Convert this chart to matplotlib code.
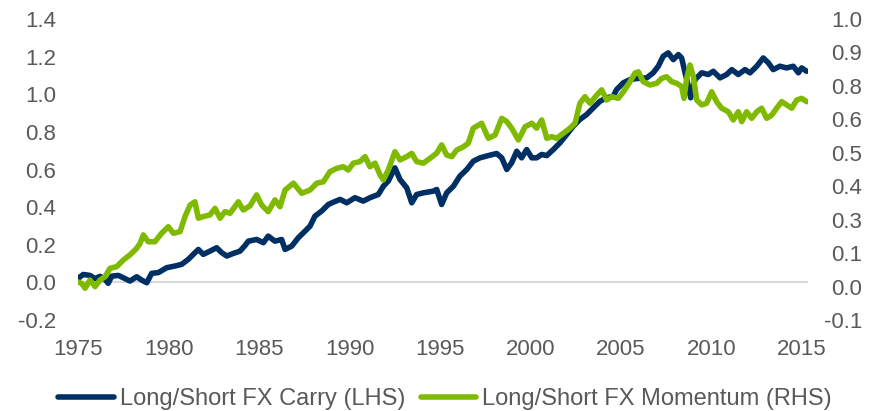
import matplotlib
matplotlib.use("Agg")
import matplotlib.pyplot as plt
import numpy as np

plt.rcParams['font.family'] = ['Liberation Sans', 'DejaVu Sans']

# ---- data ----
carry_years = [1975.00, 1975.29, 1975.66, 1975.94, 1976.22, 1976.49, 1976.67, 1976.86, 1977.23, 1977.60,
               1977.87, 1978.24, 1978.52, 1978.80, 1979.07, 1979.44, 1979.90, 1980.36, 1980.73, 1981.09,
               1981.37, 1981.65, 1981.92, 1982.29, 1982.66, 1982.94, 1983.22, 1983.58, 1983.95, 1984.23,
               1984.41, 1984.87, 1985.24, 1985.51, 1985.88, 1986.25, 1986.44, 1986.81, 1987.17, 1987.54,
               1987.82, 1988.09, 1988.46, 1988.83, 1989.10, 1989.48, 1989.85, 1990.30, 1990.76, 1991.13,
               1991.59, 1991.87, 1992.14, 1992.51, 1992.79, 1993.16, 1993.44, 1993.71, 1994.08, 1994.63,
               1994.82, 1995.09, 1995.37, 1995.74, 1996.10, 1996.48, 1996.84, 1997.21, 1997.67, 1998.13,
               1998.41, 1998.69, 1998.96, 1999.24, 1999.51, 1999.79, 2000.07, 2000.34, 2000.62, 2000.90,
               2001.26, 2001.63, 2002.00, 2002.36, 2002.73, 2003.10, 2003.47, 2003.84, 2004.21, 2004.57,
               2004.76, 2005.13, 2005.50, 2005.83, 2006.42, 2006.78, 2007.06, 2007.33, 2007.61, 2007.89,
               2008.17, 2008.35, 2008.54, 2008.72, 2008.85, 2009.09, 2009.46, 2009.82, 2010.10, 2010.47,
               2010.84, 2011.12, 2011.48, 2011.85, 2012.13, 2012.50, 2012.86, 2013.14, 2013.41, 2013.78,
               2014.15, 2014.52, 2014.80, 2014.98, 2015.26]
carry_values = [0.021, 0.042, 0.037, 0.020, 0.032, 0.016, -0.005, 0.033, 0.037, 0.020,
                0.007, 0.030, 0.012, -0.002, 0.048, 0.052, 0.078, 0.087, 0.096, 0.122,
                0.149, 0.175, 0.149, 0.166, 0.184, 0.158, 0.140, 0.154, 0.166, 0.196,
                0.219, 0.228, 0.211, 0.246, 0.219, 0.228, 0.175, 0.193, 0.237, 0.272,
                0.299, 0.352, 0.379, 0.414, 0.426, 0.441, 0.423, 0.450, 0.432, 0.450,
                0.467, 0.511, 0.538, 0.609, 0.547, 0.503, 0.423, 0.467, 0.476, 0.485,
                0.494, 0.414, 0.476, 0.511, 0.565, 0.600, 0.644, 0.662, 0.674, 0.685,
                0.662, 0.600, 0.636, 0.697, 0.662, 0.706, 0.662, 0.662, 0.680, 0.674,
                0.706, 0.742, 0.786, 0.830, 0.866, 0.892, 0.928, 0.963, 0.981, 0.989,
                1.025, 1.061, 1.078, 1.083, 1.087, 1.114, 1.149, 1.202, 1.220, 1.184,
                1.211, 1.193, 1.114, 1.043, 0.981, 1.078, 1.114, 1.105, 1.122, 1.087,
                1.105, 1.131, 1.105, 1.131, 1.114, 1.149, 1.193, 1.167, 1.131, 1.149,
                1.140, 1.149, 1.114, 1.140, 1.122]

mom_years = [1975.00, 1975.20, 1975.39, 1975.66, 1975.94, 1976.22, 1976.49, 1976.77, 1977.14, 1977.50,
             1977.87, 1978.06, 1978.24, 1978.43, 1978.61, 1978.88, 1979.25, 1979.62, 1979.99, 1980.27,
             1980.64, 1980.91, 1981.19, 1981.46, 1981.65, 1981.92, 1982.29, 1982.57, 1982.85, 1983.12,
             1983.40, 1983.86, 1984.13, 1984.50, 1984.87, 1985.15, 1985.51, 1985.88, 1986.16, 1986.44,
             1986.90, 1987.36, 1987.82, 1988.19, 1988.55, 1988.92, 1989.29, 1989.66, 1989.93, 1990.21,
             1990.58, 1990.86, 1991.13, 1991.41, 1991.69, 1991.87, 1992.14, 1992.51, 1992.79, 1993.16,
             1993.44, 1993.71, 1994.08, 1994.45, 1994.82, 1995.09, 1995.37, 1995.65, 1995.92, 1996.29,
             1996.56, 1996.84, 1997.30, 1997.67, 1998.04, 1998.41, 1998.69, 1998.96, 1999.33, 1999.70,
             2000.07, 2000.34, 2000.62, 2000.90, 2001.17, 2001.45, 2001.81, 2002.18, 2002.46, 2002.73,
             2003.01, 2003.29, 2003.66, 2003.93, 2004.21, 2004.49, 2004.85, 2005.13, 2005.50, 2005.77,
             2005.96, 2006.23, 2006.60, 2006.97, 2007.25, 2007.52, 2007.80, 2008.08, 2008.35, 2008.48,
             2008.63, 2008.81, 2009.00, 2009.18, 2009.46, 2009.73, 2010.01, 2010.28, 2010.56, 2010.93,
             2011.20, 2011.48, 2011.67, 2011.94, 2012.22, 2012.50, 2012.77, 2013.05, 2013.33, 2013.60,
             2013.88, 2014.15, 2014.43, 2014.71, 2014.98, 2015.26]
mom_values = [0.039, 0.034, 0.016, 0.046, 0.022, 0.046, 0.058, 0.089, 0.095, 0.119,
              0.138, 0.150, 0.162, 0.180, 0.211, 0.186, 0.186, 0.217, 0.241, 0.217,
              0.223, 0.278, 0.320, 0.332, 0.272, 0.278, 0.284, 0.308, 0.272, 0.296,
              0.290, 0.332, 0.302, 0.317, 0.357, 0.320, 0.296, 0.339, 0.314, 0.375,
              0.400, 0.363, 0.375, 0.400, 0.405, 0.442, 0.454, 0.460, 0.448, 0.473,
              0.479, 0.497, 0.460, 0.473, 0.430, 0.412, 0.448, 0.515, 0.485, 0.497,
              0.509, 0.479, 0.473, 0.491, 0.510, 0.540, 0.503, 0.497, 0.521, 0.533,
              0.546, 0.601, 0.619, 0.564, 0.576, 0.637, 0.625, 0.601, 0.558, 0.606,
              0.619, 0.601, 0.631, 0.564, 0.570, 0.564, 0.582, 0.601, 0.619, 0.692,
              0.716, 0.692, 0.722, 0.741, 0.704, 0.716, 0.710, 0.734, 0.771, 0.802,
              0.807, 0.771, 0.759, 0.765, 0.783, 0.789, 0.771, 0.765, 0.753, 0.710,
              0.783, 0.832, 0.789, 0.704, 0.686, 0.692, 0.734, 0.698, 0.674, 0.661,
              0.631, 0.661, 0.625, 0.661, 0.637, 0.661, 0.674, 0.637, 0.649, 0.674,
              0.698, 0.686, 0.674, 0.704, 0.710, 0.698]

x_ticks = [1975, 1980, 1985, 1990, 1995, 2000, 2005, 2010, 2015]
left_ticks = [-0.2, 0.0, 0.2, 0.4, 0.6, 0.8, 1.0, 1.2, 1.4]
right_min, right_max, right_n = -0.1, 1.0, 10

series_names = ["Long/Short FX Carry (LHS)", "Long/Short FX Momentum (RHS)"]

# ---- style ----
NAVY = '#003063'
GREEN = '#7FBA00'
TXT = '#595959'
W, H = 869, 411
fig = plt.figure(figsize=(W / 100, H / 100), dpi=100)
ax = fig.add_axes([78 / W, 91 / H, 730 / W, 301 / H])
ax.set_xlim(1975, 1975 + 730 / 18.1)
ax.set_ylim(-0.2, 1.4)

ax.axhline(0, color='#D9D9D9', lw=1.5, zorder=1)
l1, = ax.plot(carry_years, carry_values, color=NAVY, lw=4.0,
              solid_joinstyle='round', solid_capstyle='round', zorder=3)

ax2 = ax.twinx()
ax2.set_ylim(right_min, right_max)
l2, = ax2.plot(mom_years, mom_values, color=GREEN, lw=4.0,
               solid_joinstyle='round', solid_capstyle='round', zorder=3)

for a in (ax, ax2):
    for s in a.spines.values():
        s.set_visible(False)
    a.patch.set_visible(False)

fs = 16
ax.set_xticks(x_ticks, [str(t) for t in x_ticks])
ax.set_yticks(left_ticks, ['%.1f' % t for t in left_ticks])
rt = np.linspace(right_min, right_max, right_n)
ax2.set_yticks(rt, ['%.1f' % t for t in rt], ha='right')

ax.tick_params(axis='x', length=0, pad=14, labelsize=fs, labelcolor=TXT)
ax.tick_params(axis='y', length=0, pad=16, labelsize=fs, labelcolor=TXT)
ax2.tick_params(axis='y', length=0, pad=39, labelsize=fs, labelcolor=TXT)

leg = fig.legend([l1, l2], series_names, loc='center',
                 bbox_to_anchor=(445 / W, 1 - 399 / H), ncol=2, frameon=False,
                 fontsize=17, handlelength=2.35, handletextpad=0.25,
                 columnspacing=0.65, borderpad=0)
for t in leg.get_texts():
    t.set_color(TXT)
for h in leg.legend_handles:
    h.set_linewidth(4.0)

fig.savefig('out.png', dpi=100)
